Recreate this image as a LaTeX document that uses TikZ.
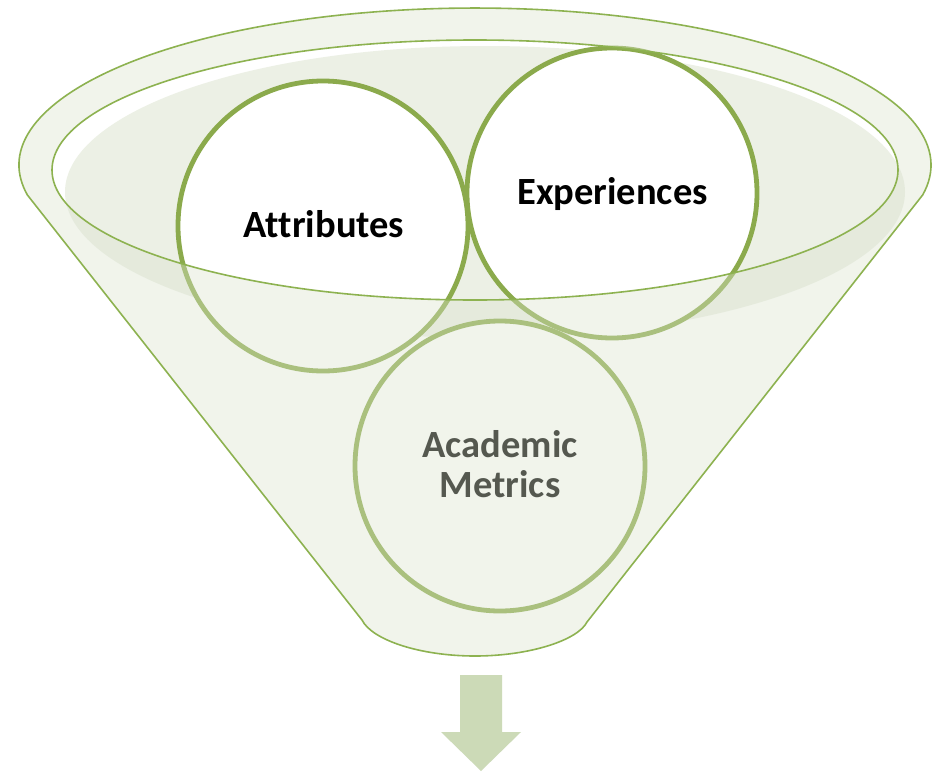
\documentclass[tikz,border=0pt]{standalone}
\usepackage{fontspec}
\setmainfont[Ligatures=NoCommon]{Carlito}
\definecolor{funnelgreen}{RGB}{141,178,80}
\definecolor{circgreen}{RGB}{139,170,76}
\definecolor{overlaycol}{RGB}{219,227,206}
\definecolor{shadecol}{RGB}{236,240,229}
\definecolor{arrowcol}{RGB}{204,218,183}
\begin{document}
\begin{tikzpicture}[x=1pt,y=-1pt,
  funline/.style={draw=funnelgreen, line width=1.6pt},
  bubble/.style={circle, draw=circgreen, line width=4.8pt, fill=white, minimum size=290pt, inner sep=0pt},
  lbl/.style={anchor=base, inner sep=0pt, font=\fontsize{38.5}{40}\selectfont\bfseries}]
\fill[white] (0,0) rectangle (934,771);
\useasboundingbox (0,0) rectangle (934,771);
% back of funnel: shaded opening
\fill[shadecol] (485,192) ellipse [x radius=420, y radius=146];
% circles
\node[bubble] (attr) at (323,226) {};
\node[lbl] (attrtext) at (324,237) {Attributes};
\node[bubble] (exp) at (612,193) {};
\node[lbl] (exptext) at (612.5,204) {Experiences};
\node[bubble] (acad) at (500,466) {};
\node[lbl] (acadtexta) at (500,457) {Academic};
\node[lbl] (acadtextb) at (500,497) {Metrics};
% front of funnel (semi-transparent)
\fill[overlaycol, fill opacity=0.39, even odd rule]
  (27.4,195) arc[start angle=169, end angle=371, x radius=456, y radius=157]
  -- (587,622) .. controls (578,640) and (530,656) .. (475,656)
  .. controls (420,656) and (372,640) .. (362,620) -- cycle
  (475,170) ellipse [x radius=423, y radius=130];
% outlines
\draw[funline]
  (27.4,195) arc[start angle=169, end angle=371, x radius=456, y radius=157]
  -- (587,622) .. controls (578,640) and (530,656) .. (475,656)
  .. controls (420,656) and (372,640) .. (362,620) -- cycle;
\draw[funline] (475,170) ellipse [x radius=423, y radius=130];
% down arrow
\fill[arrowcol] (460,675) -- (502,675) -- (502,732) -- (521,732) -- (481,771)
  -- (441,732) -- (460,732) -- cycle;
\end{tikzpicture}
\end{document}
